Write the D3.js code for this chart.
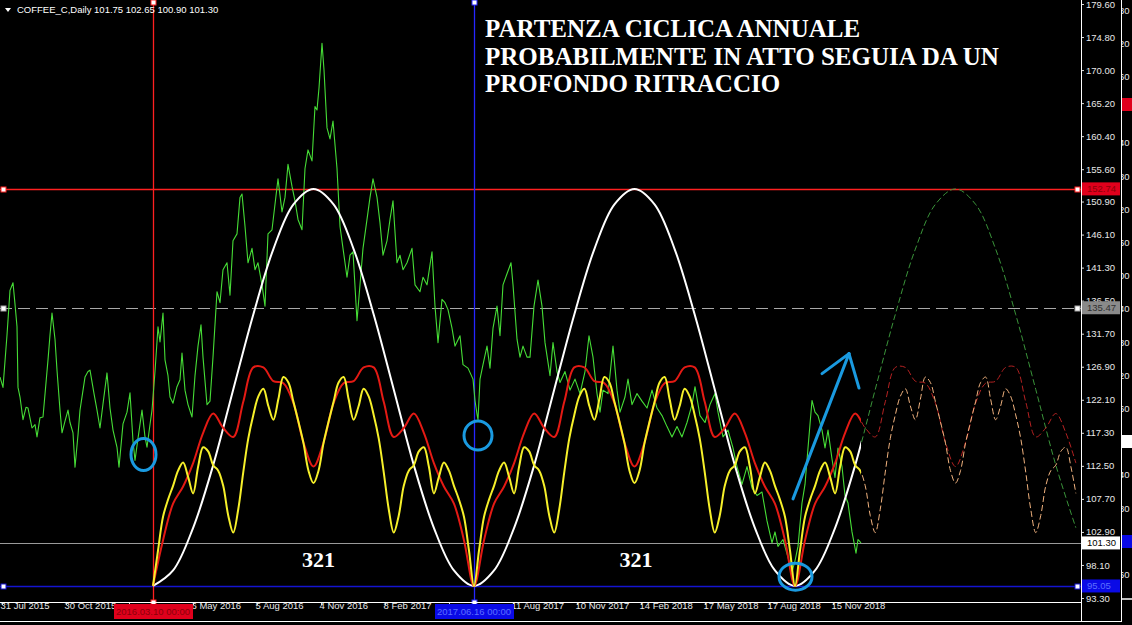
<!DOCTYPE html>
<html><head><meta charset="utf-8">
<script src="https://cdn.jsdelivr.net/npm/d3@7"></script>
<style>
html,body{margin:0;padding:0;background:#000;overflow:hidden}
svg{display:block}
text{font-family:"Liberation Sans",Arial,sans-serif}
</style></head><body><svg id="chart" width="1132" height="625"></svg>
<script>
// ---------------- DATA ----------------
const symbol = "COFFEE_C,Daily";
const ohlc = [101.75, 102.65, 100.90, 101.30];
const yTicks = [179.60,174.80,170.00,165.20,160.40,155.60,150.90,146.10,141.30,136.50,131.70,126.90,122.10,117.30,112.50,107.70,102.90,98.10,93.30];
const xTickBars = [2,66,129,193,257,321,385,449,513,577,641,705,769,833];
// labels at bars 129 and 449 are hidden under the marker date boxes in the reference
const xTickLabels = ["31 Jul 2015","30 Oct 2015","","6 May 2016","5 Aug 2016","4 Nov 2016","8 Feb 2017","","11 Aug 2017","10 Nov 2017","14 Feb 2018","17 May 2018","17 Aug 2018","15 Nov 2018"];

// daily close (bar index, price)
const priceBars = [0,3,7,10,13,15,17,18,20,23,26,28,32,35,37,40,43,48,50,52,55,57,60,62,65,68,70,73,75,78,80,85,88,90,94,97,100,103,107,110,113,117,119,123,127,130,133,135,138,142,145,147,150,152,155,158,160,163,165,168,170,173,177,180,182,185,188,192,195,198,201,203,207,210,213,217,220,223,227,230,233,237,240,242,245,248,252,255,258,262,265,268,272,275,278,282,285,288,292,295,298,302,305,308,312,315,317,319,322,324,327,330,333,337,340,343,347,350,353,357,360,363,367,370,373,377,380,383,387,390,393,397,400,403,407,412,415,420,423,427,432,435,438,442,445,448,452,455,460,463,468,473,475,477,478,480,483,487,490,493,497,500,503,507,511,513,517,520,523,527,530,534,538,542,545,550,553,557,560,565,570,575,580,585,589,593,597,600,603,608,613,617,620,625,628,632,637,642,647,652,657,662,667,672,677,682,687,692,695,700,705,710,715,718,723,728,733,737,742,747,752,757,762,767,772,775,778,783,788,792,795,798,802,805,808,812,815,818,822,825,828,832,835,838,842,845,848,852,856,858,861];
const priceClose = [125.4,123.9,131.5,138.0,139.1,136.0,132.7,123.9,122.5,119.2,121.0,120.9,118.0,118.5,116.7,119.5,119.6,127.9,131.5,134.7,130.9,126.4,120.6,117.3,119.0,120.6,118.8,117.3,112.3,117.0,120.6,125.4,126.2,126.4,123.0,120.6,118.0,121.5,126.0,120.9,117.7,115.2,112.3,118.6,120.3,123.1,116.1,113.3,116.5,120.6,116.7,115.2,118.5,120.6,126.2,132.7,130.5,134.7,127.9,125.6,122.5,121.6,124.0,125.0,128.9,123.5,121.4,119.6,125.6,129.9,133.0,128.3,121.4,121.9,128.3,137.8,136.2,141.0,142.0,137.3,145.2,146.2,151.5,152.0,147.3,142.0,144.1,141.0,142.0,138.8,135.7,146.2,146.8,150.5,154.2,149.4,151.5,156.3,153.1,151.0,148.3,146.8,155.7,158.4,156.8,164.7,164.2,167.4,173.9,170.0,161.6,160.0,162.6,155.7,147.3,144.1,139.9,143.1,143.6,133.6,138.8,144.1,148.3,151.5,154.2,151.5,147.8,143.1,145.2,148.3,151.0,142.0,143.1,141.0,142.0,144.1,138.8,137.8,139.9,138.8,143.6,135.7,130.4,136.7,136.2,135.2,132.5,129.9,131.4,127.2,126.7,125.1,122.0,120.0,119.2,125.1,127.2,129.9,126.7,132.5,135.7,131.4,138.8,140.4,142.0,138.8,130.9,128.3,129.9,128.3,128.3,135.7,139.5,135.7,130.4,125.6,130.4,126.2,124.6,126.2,123.5,125.1,123.0,126.2,131.4,128.3,123.0,120.3,123.5,123.0,129.9,123.5,120.3,122.5,125.1,121.4,123.0,121.9,120.9,123.5,120.9,119.8,118.2,116.7,118.2,116.7,118.8,121.4,124.0,119.8,118.8,121.4,123.0,120.3,116.7,117.7,115.1,112.4,109.8,112.4,109.3,108.2,108.7,104.5,101.3,102.9,100.8,101.8,99.2,97.1,98.7,100.8,107.1,109.8,115.1,122.0,120.3,119.8,117.7,115.1,117.7,113.5,110.8,115.1,112.4,108.2,107.1,102.9,99.8,101.8,101.3];

// cycle model: first bar, period (bars), last real bar
const cycleStartBar = 153;
const cyclePeriod = 321;
const lastBar = 861;
// 321-bar cycle, sampled every period/16 bars
const cycle321 = [95.05,97.3,103.5,112.6,123.6,134.5,144.0,150.5,152.74,150.5,144.0,134.5,123.6,112.6,103.5,97.3,
  95.05,97.3,103.5,112.6,123.6,134.5,144.0,150.5,152.74,150.5,144.0,134.5,123.6,112.6,103.5,97.3,
  95.05,97.3,103.5,112.6,123.6,134.5,144.0,150.5,152.74,150.5,144.0,134.5,123.6,112.6,103.5];
// composite cycle (red), sampled every period/32 bars
const cycleRed = [95.05,101.7,107.0,109.5,112.9,117.3,120.1,118.0,116.7,121.8,126.8,126.8,124.8,124.5,121.6,115.9,112.4,115.9,121.6,124.5,124.8,126.8,126.8,121.8,116.7,118.0,120.1,117.3,112.9,109.5,107.0,101.7,
  95.05,101.7,107.0,109.5,112.9,117.3,120.1,118.0,116.7,121.8,126.8,126.8,124.8,124.5,121.6,115.9,112.4,115.9,121.6,124.5,124.8,126.8,126.8,121.8,116.7,118.0,120.1,117.3,112.9,109.5,107.0,101.7,
  95.05,101.7,107.0,109.5,112.9,117.3,120.1,118.0,116.7,121.8,126.8,126.8,124.8,124.5,121.6,115.9,112.4,115.9,121.6,124.5,124.8,126.8,126.8,121.8,116.7,118.0,120.1,117.3,112.9];
// composite cycle (yellow), sampled every period/64 bars
const cycleYellow = [95.05,100.2,105.1,107.6,109.6,111.8,113.0,110.9,108.5,112.4,115.2,114.6,112.6,111.8,109.6,105.3,102.8,106.2,111.6,116.5,119.9,122.6,123.7,121.2,119.2,122.2,125.4,124.6,121.8,118.9,115.8,111.8,110.0,111.8,115.8,118.9,121.8,124.6,125.4,122.2,119.2,121.2,123.7,122.6,119.9,116.5,111.6,106.2,102.8,105.3,109.6,111.8,112.6,114.6,115.2,112.4,108.5,110.9,113.0,111.8,109.6,107.6,105.1,100.2,
  95.05,100.2,105.1,107.6,109.6,111.8,113.0,110.9,108.5,112.4,115.2,114.6,112.6,111.8,109.6,105.3,102.8,106.2,111.6,116.5,119.9,122.6,123.7,121.2,119.2,122.2,125.4,124.6,121.8,118.9,115.8,111.8,110.0,111.8,115.8,118.9,121.8,124.6,125.4,122.2,119.2,121.2,123.7,122.6,119.9,116.5,111.6,106.2,102.8,105.3,109.6,111.8,112.6,114.6,115.2,112.4,108.5,110.9,113.0,111.8,109.6,107.6,105.1,100.2,
  95.05,100.2,105.1,107.6,109.6,111.8,113.0,110.9,108.5,112.4,115.2,114.6,112.6,111.8,109.6,105.3,102.8,106.2,111.6,116.5,119.9,122.6,123.7,121.2,119.2,122.2,125.4,124.6,121.8,118.9,115.8,111.8,110.0,111.8,115.8,118.9,121.8,124.6,125.4,122.2,119.2,121.2,123.7,122.6,119.9,116.5,111.6,106.2,102.8,105.3,109.6,111.8,112.6,114.6,115.2,112.4,108.5];

// horizontal levels
const levelHigh = 152.74, levelMid = 135.47, levelBid = 101.30, levelLow = 95.05;
// vertical markers
const markerBars = [153, 474];
const markerLabels = ["2016.03.10 00:00", "2017.06.16 00:00"];
// annotations (bar, price)
const circleBars = [143.5, 478, 795.5];
const circlePrices = [114.15, 116.9, 96.4];
const arrowBars = [793, 849, 822, 859];
const arrowPrices = [107.7, 128.8, 125.9, 123.8];
const titleLines = ["PARTENZA CICLICA ANNUALE","PROBABILMENTE IN ATTO SEGUIA DA UN","PROFONDO RITRACCIO"];
const cycleLabel = "321";
const cycleLabelBars = [318.5, 636];
const cycleLabelPrice = 97.8;
const sideLabels = ["80","20","60","","40","80","20","60","00","40","80","20","60","","40","80","","60"];

// ---------------- CHART ----------------
const W = 1132, H = 625, plotR = 1081, axisY = 602;
const svg = d3.select("#chart");
svg.append("rect").attr("width", W).attr("height", H).attr("fill", "#000");

const x = d3.scaleLinear().domain([0, plotR]).range([0, plotR]);
const y = d3.scaleLinear().domain([93.30, 179.60]).range([598, 4]);
const px = v => Math.round(x(v)) + 0.5;
const py = v => Math.round(y(v)) + 0.5;

const defs = svg.append("defs");
defs.append("clipPath").attr("id", "plot").append("rect").attr("x", 0).attr("y", 0).attr("width", plotR).attr("height", axisY);
defs.append("clipPath").attr("id", "past").append("rect").attr("x", 0).attr("y", 0).attr("width", x(lastBar)).attr("height", axisY);
defs.append("clipPath").attr("id", "future").append("rect").attr("x", x(lastBar)).attr("y", 0).attr("width", plotR - x(lastBar)).attr("height", axisY);
defs.append("clipPath").attr("id", "side").append("rect").attr("x", 1122).attr("y", 0).attr("width", 10).attr("height", 600);

const plot = svg.append("g").attr("clip-path", "url(#plot)");

// horizontal levels
plot.append("line").attr("x1", 0).attr("x2", plotR).attr("y1", py(levelMid)).attr("y2", py(levelMid))
  .attr("stroke", "#a8a8a8").attr("stroke-dasharray", "12,6");
plot.append("line").attr("x1", 0).attr("x2", plotR).attr("y1", py(levelBid)).attr("y2", py(levelBid))
  .attr("stroke", "#9a9a9a");
plot.append("line").attr("x1", 0).attr("x2", plotR).attr("y1", py(levelHigh)).attr("y2", py(levelHigh))
  .attr("stroke", "#ff2020").attr("stroke-width", 1.3);
plot.append("line").attr("x1", 0).attr("x2", plotR).attr("y1", py(levelLow)).attr("y2", py(levelLow))
  .attr("stroke", "#1414d0").attr("stroke-width", 1.5);

// vertical markers
const vColors = ["#ff2020", "#2626ff"];
markerBars.forEach((b, i) => {
  plot.append("line").attr("x1", px(b)).attr("x2", px(b)).attr("y1", 0).attr("y2", axisY)
    .attr("stroke", vColors[i]).attr("stroke-width", 1.3);
});

// price
const priceLine = d3.line().x((d, i) => x(priceBars[i])).y(d => y(d));
plot.append("path").attr("d", priceLine(priceClose)).attr("fill", "none")
  .attr("stroke", "#46dc36").attr("stroke-width", 1.1).attr("stroke-linejoin", "round");

// cycles
function cyclePath(vals, samplesPerPeriod) {
  const step = cyclePeriod / samplesPerPeriod;
  return d3.line().curve(d3.curveCatmullRom.alpha(0.5))
    .x((d, i) => x(cycleStartBar + i * step)).y(d => y(d))(vals);
}
const series = [
  {vals: cycle321, n: 16, color: "#ffffff", future: "#3a943a"},
  {vals: cycleRed, n: 32, color: "#e41a14", future: "#b52222"},
  {vals: cycleYellow, n: 64, color: "#f6f02a", future: "#f0b27e"}
];
const past = plot.append("g").attr("clip-path", "url(#past)");
const fut = plot.append("g").attr("clip-path", "url(#future)");
series.forEach(s => {
  const d = cyclePath(s.vals, s.n);
  past.append("path").attr("d", d).attr("fill", "none").attr("stroke", s.color).attr("stroke-width", 2);
  fut.append("path").attr("d", d).attr("fill", "none").attr("stroke", s.future).attr("stroke-width", 1).attr("stroke-dasharray", "6,3");
});

// anchors on levels / markers
function anchor(ax, ay, stroke) {
  svg.append("rect").attr("x", Math.round(ax) - 2).attr("y", Math.round(ay) - 2).attr("width", 5).attr("height", 5)
    .attr("fill", "#fff").attr("stroke", stroke).attr("stroke-width", 1);
}
[[levelHigh, "#ff2020"], [levelMid, "#a8a8a8"], [levelLow, "#1414d0"]].forEach(([v, c]) => {
  anchor(3, y(v), c); anchor(plotR - 4, y(v), c);
});
markerBars.forEach((b, i) => { anchor(x(b), 2, vColors[i]); anchor(x(b), axisY, vColors[i]); });

// annotations
const annBlue = "#1a9ae0";
circleBars.forEach((b, i) => {
  const rx = [12.5, 14, 16.5][i], ry = [16, 14.5, 13.5][i];
  svg.append("ellipse").attr("cx", x(b)).attr("cy", y(circlePrices[i])).attr("rx", rx).attr("ry", ry)
    .attr("fill", "none").attr("stroke", annBlue).attr("stroke-width", 3);
});
const arrowG = svg.append("g").attr("stroke", annBlue).attr("stroke-width", 3).attr("stroke-linecap", "round");
arrowG.append("line").attr("x1", x(arrowBars[0])).attr("y1", y(arrowPrices[0])).attr("x2", x(arrowBars[1])).attr("y2", y(arrowPrices[1]));
arrowG.append("line").attr("x1", x(arrowBars[2])).attr("y1", y(arrowPrices[2])).attr("x2", x(arrowBars[1])).attr("y2", y(arrowPrices[1]));
arrowG.append("line").attr("x1", x(arrowBars[3])).attr("y1", y(arrowPrices[3])).attr("x2", x(arrowBars[1])).attr("y2", y(arrowPrices[1]));

// title
const title = svg.append("text").attr("x", 485).attr("y", 37)
  .style("font-family", "'Liberation Serif','Times New Roman',serif").style("font-weight", "bold")
  .style("font-size", "25px").attr("fill", "#fff");
titleLines.forEach((t, i) => title.append("tspan").attr("x", 485).attr("dy", i ? 27.5 : 0).text(t));

cycleLabelBars.forEach(b => {
  svg.append("text").attr("x", x(b)).attr("y", y(cycleLabelPrice)).attr("text-anchor", "middle")
    .style("font-family", "'Liberation Serif','Times New Roman',serif").style("font-weight", "bold")
    .style("font-size", "22px").attr("fill", "#fff").text(cycleLabel);
});

// header
svg.append("path").attr("d", "M5,8 L11,8 L8,12 Z").attr("fill", "#fff");
svg.append("text").attr("x", 17).attr("y", 13).attr("fill", "#fff").style("font-size", "9.5px")
  .text(symbol + "  " + ohlc.map(v => v.toFixed(2)).join(" "));

// right axis
const yAxis = svg.append("g").attr("transform", `translate(${plotR},0)`)
  .call(d3.axisRight(y).tickValues(yTicks).tickSize(3).tickPadding(2).tickFormat(d3.format(".2f")));
yAxis.select(".domain").remove();
yAxis.selectAll("line").attr("stroke", "#ddd");
yAxis.selectAll("text").attr("fill", "#e8e8e8").style("font-size", "9.5px").style("font-family", "'Liberation Sans',Arial,sans-serif");
svg.append("line").attr("x1", plotR + 0.5).attr("x2", plotR + 0.5).attr("y1", 0).attr("y2", 622).attr("stroke", "#fff");

// bottom axis
const xAxis = svg.append("g").attr("transform", `translate(0,${axisY})`)
  .call(d3.axisBottom(x).tickValues(xTickBars).tickSize(3).tickFormat((d, i) => xTickLabels[i]));
xAxis.select(".domain").remove();
xAxis.selectAll("line").attr("stroke", "#ddd");
xAxis.selectAll("text").attr("fill", "#e8e8e8").attr("text-anchor", "start").attr("dx", "-2px").attr("dy", "0.1em")
  .style("font-size", "9.5px").style("font-family", "'Liberation Sans',Arial,sans-serif");
svg.append("line").attr("x1", 0).attr("x2", plotR).attr("y1", axisY + 0.5).attr("y2", axisY + 0.5).attr("stroke", "#fff");
svg.append("line").attr("x1", 0).attr("x2", 1122).attr("y1", 621.5).attr("y2", 621.5).attr("stroke", "#fff");

// level label boxes (right axis)
function priceBox(v, bg, fg) {
  const g = svg.append("g").attr("transform", `translate(${plotR + 1},${y(v)})`);
  g.append("rect").attr("x", 0).attr("y", -6.5).attr("width", 38).attr("height", 13).attr("fill", bg);
  g.append("text").attr("x", 5).attr("y", 3.5).attr("fill", fg).style("font-size", "9.5px").text(v.toFixed(2));
}
priceBox(levelHigh, "#e0001c", "#8c0008");
priceBox(levelMid, "#8a8a8a", "#303030");
priceBox(levelBid, "#ffffff", "#000000");
priceBox(levelLow, "#0a0ae6", "#5c70ff");

// date label boxes (bottom axis)
const boxBg = ["#e0001c", "#0a0ae6"], boxFg = ["#8c0008", "#5c70ff"];
markerBars.forEach((b, i) => {
  const g = svg.append("g").attr("transform", `translate(${x(b)},${axisY + 2})`);
  g.append("rect").attr("x", -39).attr("y", 0).attr("width", 79).attr("height", 15).attr("fill", boxBg[i]);
  g.append("text").attr("x", 0).attr("y", 11).attr("text-anchor", "middle").attr("fill", boxFg[i])
    .style("font-size", "9.5px").text(markerLabels[i]);
});

// neighbouring window fragment
svg.append("line").attr("x1", 1121.5).attr("x2", 1121.5).attr("y1", 0).attr("y2", 622).attr("stroke", "#fff");
const side = svg.append("g").attr("clip-path", "url(#side)");
side.append("rect").attr("x", 1122).attr("y", 98).attr("width", 10).attr("height", 13).attr("fill", "#e0001c");
side.append("rect").attr("x", 1122).attr("y", 435).attr("width", 10).attr("height", 13).attr("fill", "#fff");
side.append("rect").attr("x", 1122).attr("y", 535).attr("width", 10).attr("height", 13).attr("fill", "#0a0ae6");
side.append("rect").attr("x", 1122).attr("y", 598).attr("width", 10).attr("height", 22).attr("fill", "#bdbdbd");
sideLabels.forEach((t, i) => {
  side.append("text").attr("x", 1119).attr("y", 13.5 + i * 33.2).attr("fill", "#e8e8e8").style("font-size", "9.5px").text(t);
});
</script></body></html>
